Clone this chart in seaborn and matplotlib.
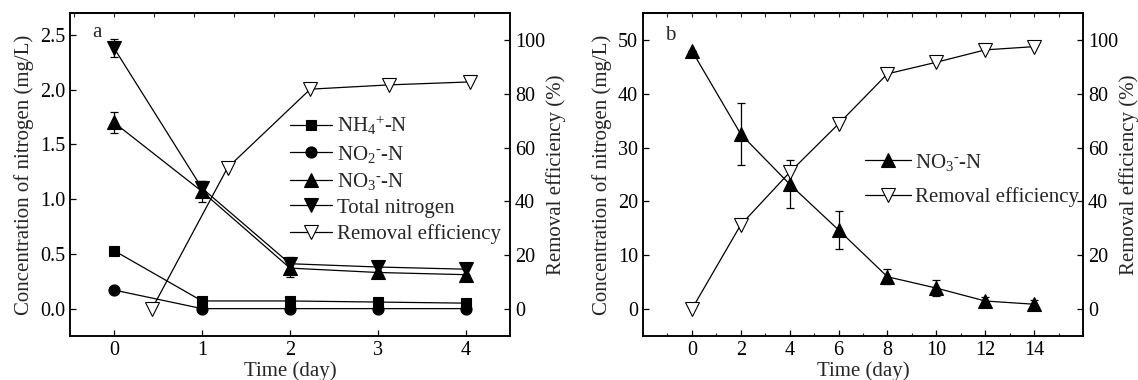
import matplotlib
matplotlib.use("Agg")
import matplotlib.pyplot as plt
import seaborn as sns
import numpy as np
from matplotlib.ticker import MultipleLocator, FixedLocator, FormatStrFormatter

# ---- data: panel a ----
days_a = [0, 1, 2, 3, 4]
nh4_a = [0.53, 0.07, 0.07, 0.06, 0.05]
no2_a = [0.17, 0.0, 0.0, 0.0, 0.0]
no3_a = [1.70, 1.07, 0.37, 0.33, 0.31]
no3_a_err = [0.10, 0.10, 0.08, 0.05, 0.05]
tn_a = [2.38, 1.10, 0.41, 0.38, 0.36]
tn_a_err = [0.08, 0.07, 0.06, 0.05, 0.05]
rem_days_a = [0.43, 1.29, 2.23, 3.13, 4.05]
rem_a = [0.0, 52.5, 81.7, 83.3, 84.4]
xticks_a = [0, 1, 2, 3, 4]

# ---- data: panel b ----
days_b = [0, 2, 4, 6, 8, 10, 12, 14]
no3_b = [48.0, 32.5, 23.2, 14.7, 6.0, 3.9, 1.5, 0.9]
no3_b_err = [0.0, 5.8, 4.5, 3.6, 1.4, 1.5, 0.8, 0.8]
rem_b = [0.0, 31.3, 50.8, 68.8, 87.4, 91.7, 96.3, 97.5]
xticks_b = [0, 2, 4, 6, 8, 10, 12, 14]

sns.set_theme(style="ticks")
plt.rcParams['font.family'] = ['Liberation Serif', 'DejaVu Serif']
plt.rcParams['mathtext.fontset'] = 'custom'
plt.rcParams['mathtext.rm'] = 'Liberation Serif'
plt.rcParams['mathtext.it'] = 'Liberation Serif'
plt.rcParams['axes.linewidth'] = 1.1
plt.rcParams['axes.edgecolor'] = 'black'

FS = 15
TFS = 14.5
fig = plt.figure(figsize=(11.38, 3.8), dpi=100)
axa = fig.add_axes([0.0615, 0.1158, 0.3867, 0.85])
axb = fig.add_axes([0.565, 0.1158, 0.3867, 0.85])

lw = 0.9
common = dict(color='black', lw=lw, mec='black', mew=0.8)

def style(ax, ax2, xticks, xmin, topstep):
    for a in (ax, ax2):
        a.tick_params(direction='in', labelsize=TFS, colors='black', length=4, width=0.9)
        a.tick_params(which='minor', direction='in', length=2.5, width=0.8)
    ax.xaxis.set_major_locator(FixedLocator(xticks))
    if xmin:
        ax.xaxis.set_minor_locator(MultipleLocator(xmin))
    sec = ax.secondary_xaxis('top')
    sec.xaxis.set_major_locator(MultipleLocator(topstep))
    sec.tick_params(direction='in', length=3, width=0.8, labeltop=False)
    ax.set_xlabel('Time (day)', fontsize=FS, labelpad=1)
    ax.set_ylabel('Concentration of nitrogen (mg/L)', fontsize=FS, labelpad=4)
    ax2.set_ylabel('Removal efficiency (%)', fontsize=FS, labelpad=1)
    ax2.set_ylim(-10, 110)
    ax2.yaxis.set_major_locator(MultipleLocator(20))

lab_nh4 = r'NH$_4$$^{\text{+}}$-N'
lab_no2 = r'NO$_2$$^{\text{-}}$-N'
lab_no3 = r'NO$_3$$^{\text{-}}$-N'

# ---------- panel a ----------
ax2a = axa.twinx()
sns.lineplot(x=days_a, y=nh4_a, ax=axa, marker='s', ms=7, label=lab_nh4, **common)
sns.lineplot(x=days_a, y=no2_a, ax=axa, marker='o', ms=8, label=lab_no2, **common)
sns.lineplot(x=days_a, y=no3_a, ax=axa, marker='^', ms=10, label=lab_no3, **common)
sns.lineplot(x=days_a, y=tn_a, ax=axa, marker='v', ms=10, label='Total nitrogen', **common)
axa.errorbar(days_a, no3_a, yerr=no3_a_err, fmt='none', ecolor='black', elinewidth=0.9, capsize=3, capthick=0.9)
axa.errorbar(days_a, tn_a, yerr=tn_a_err, fmt='none', ecolor='black', elinewidth=0.9, capsize=3, capthick=0.9)
sns.lineplot(x=rem_days_a, y=rem_a, ax=ax2a, marker='v', ms=10, mfc='white',
             label='Removal efficiency', **common)
axa.set_xlim(-0.5, 4.5)
axa.set_ylim(-0.25, 2.7)
axa.yaxis.set_major_locator(MultipleLocator(0.5))
axa.yaxis.set_major_formatter(FormatStrFormatter('%.1f'))
style(axa, ax2a, xticks_a, None, 0.455)
h1, l1 = axa.get_legend_handles_labels()
h2, l2 = ax2a.get_legend_handles_labels()
for a in (axa, ax2a):
    if a.get_legend():
        a.get_legend().remove()
ax2a.legend(h1 + h2, l1 + l2, loc='center left', bbox_to_anchor=(0.5, 0.486),
            frameon=False, fontsize=FS, handlelength=2.0, handletextpad=0.25,
            labelspacing=0.3, borderpad=0, borderaxespad=0)
axa.text(0.05, 0.94, 'a', transform=axa.transAxes, fontsize=FS, va='center', ha='left')

# ---------- panel b ----------
ax2b = axb.twinx()
sns.lineplot(x=days_b, y=no3_b, ax=axb, marker='^', ms=10, label=lab_no3, **common)
axb.errorbar(days_b, no3_b, yerr=no3_b_err, fmt='none', ecolor='black', elinewidth=0.9, capsize=3, capthick=0.9)
sns.lineplot(x=days_b, y=rem_b, ax=ax2b, marker='v', ms=10, mfc='white',
             label='Removal efficiency', **common)
axb.set_xlim(-2, 16)
axb.set_ylim(-5, 55)
axb.yaxis.set_major_locator(MultipleLocator(10))
style(axb, ax2b, xticks_b, 1, 1)
h1, l1 = axb.get_legend_handles_labels()
h2, l2 = ax2b.get_legend_handles_labels()
for a in (axb, ax2b):
    if a.get_legend():
        a.get_legend().remove()
ax2b.legend(h1 + h2, l1 + l2, loc='center left', bbox_to_anchor=(0.505, 0.485),
            frameon=False, fontsize=FS, handlelength=2.2, handletextpad=0.2,
            labelspacing=0.7, borderpad=0, borderaxespad=0)
axb.text(0.05, 0.93, 'b', transform=axb.transAxes, fontsize=FS, va='center', ha='left')

for a in (axa, axb, ax2a, ax2b):
    for s in a.spines.values():
        s.set_color('black')

fig.savefig('out.png', dpi=100, facecolor='white')
